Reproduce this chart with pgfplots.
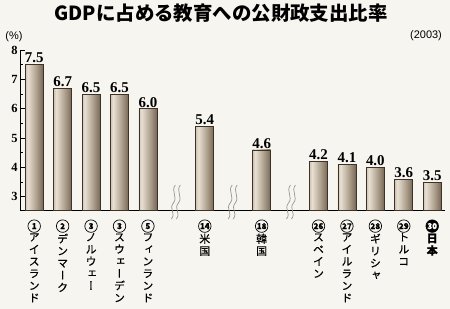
\documentclass[border=0pt]{standalone}
\usepackage{fontspec}
\usepackage{pgfplots}
\pgfplotsset{compat=1.18}
\setmainfont{Liberation Serif}
\newfontfamily\jp{Noto Sans CJK JP}
\newfontfamily\vjp[RawFeature=+vert,FakeBold=0.6]{Noto Sans CJK JP}
\newfontfamily\lsans{Liberation Sans}
\definecolor{bg}{HTML}{F7F5EF}
\definecolor{bdark}{HTML}{56473A}
\definecolor{blight}{HTML}{E8E0D3}
\definecolor{bmid}{HTML}{A39481}
\definecolor{bedge}{HTML}{3E3226}
\definecolor{brk}{HTML}{9A948C}
\pgfdeclarehorizontalshading{barshade}{100bp}{color(0bp)=(bdark); color(14bp)=(bmid); color(32bp)=(blight); color(60bp)=(bmid); color(88bp)=(bdark!90!black); color(100bp)=(bdark!80!black)}
\newcommand\brk[1]{%
  \draw[brk,line width=0.7pt] ([shift={(-5bp,-9bp)}]axis cs:#1,2.55) .. controls +(5bp,6bp) and +(-5bp,-6bp) .. ++(2bp,16bp) .. controls +(5bp,6bp) and +(-5bp,-6bp) .. ++(2bp,18bp);
  \draw[brk,line width=0.7pt] ([shift={(0bp,-9bp)}]axis cs:#1,2.55) .. controls +(5bp,6bp) and +(-5bp,-6bp) .. ++(2bp,16bp) .. controls +(5bp,6bp) and +(-5bp,-6bp) .. ++(2bp,18bp);
}
\newcommand\cnum[1]{\tikz[baseline=(n.base)]\node[circle,draw=black,line width=0.7pt,inner sep=0pt,minimum size=12.5bp,font=\bfseries\fontsize{8}{8}\selectfont](n){#1};}
\newcommand\bcirc[1]{\tikz[baseline=(n.base)]\node[circle,fill=black,draw=black,line width=0.7pt,text=white,inner sep=0pt,minimum size=12.5bp,font=\bfseries\fontsize{8}{8}\selectfont](n){#1};}
\begin{document}
\begin{tikzpicture}
\fill[bg] (0,0) rectangle (450bp,309bp);
\useasboundingbox (0,0) rectangle (450bp,309bp);
\node[font=\jp\bfseries\fontsize{19.5}{19.5}\selectfont] at (221bp,296bp) {GDPに占める教育への公財政支出比率};
\node[font=\lsans\fontsize{11}{11}\selectfont] at (14bp,272bp) {(\%)};
\node[font=\lsans\fontsize{11}{11}\selectfont] at (426bp,273bp) {(2003)};
\begin{axis}[
  at={(20bp,99bp)}, anchor=south west,
  scale only axis, width=425bp, height=160bp,
  xmin=-0.5, xmax=14.45, ymin=2.55, ymax=8,
  axis x line=bottom, axis y line=left,
  axis line style={-, black, line width=0.8pt},
  clip=false,
  ytick={3,4,5,6,7,8},
  minor ytick={3.5,4.5,5.5,6.5,7.5},
  ytick style={black, line width=0.6pt},
  major tick length=5bp, minor tick length=3bp,
  tick align=inside,
  /pgf/number format/assume math mode=true,
  yticklabel style={font=\bfseries\fontsize{12.5}{12.5}\selectfont, xshift=1bp},
  xtick={0,1,2,3,4,6,8,10,11,12,13,14},
  xtick style={draw=none},
  xticklabel style={align=center, anchor=north, yshift=-1bp, font=\vjp\fontsize{11}{12.2}\selectfont},
  xticklabels={
    {\cnum{1}\\ア\\イ\\ス\\ラ\\ン\\ド},
    {\cnum{2}\\デ\\ン\\マ\\ー\\ク},
    {\cnum{3}\\ノ\\ル\\ウ\\ェ\\ー},
    {\cnum{3}\\ス\\ウ\\ェ\\ー\\デ\\ン},
    {\cnum{5}\\フ\\ィ\\ン\\ラ\\ン\\ド},
    {\cnum{14}\\米\\国},
    {\cnum{18}\\韓\\国},
    {\cnum{26}\\ス\\ペ\\イ\\ン},
    {\cnum{27}\\ア\\イ\\ル\\ラ\\ン\\ド},
    {\cnum{28}\\ギ\\リ\\シ\\ャ},
    {\cnum{29}\\ト\\ル\\コ},
    {\bcirc{30}\\\bfseries 日\\\bfseries 本}
  },
  ybar, bar width=18bp,
  mybar/.style={draw=bedge, line width=0.6pt, shade, shading=barshade, bar shift=0pt},
  nodes near coords={\pgfmathprintnumber[fixed,fixed zerofill,precision=1,assume math mode=true]{\pgfplotspointmeta}},
  every node near coord/.append style={font=\bfseries\fontsize{15}{15}\selectfont, black, inner sep=1.2pt},
]
\addplot[mybar] coordinates {(0,7.5)};
\addplot[mybar] coordinates {(1,6.7)};
\addplot[mybar] coordinates {(2,6.5)};
\addplot[mybar] coordinates {(3,6.5)};
\addplot[mybar] coordinates {(4,6.0)};
\addplot[mybar] coordinates {(6,5.4)};
\addplot[mybar] coordinates {(8,4.6)};
\addplot[mybar] coordinates {(10,4.2)};
\addplot[mybar] coordinates {(11,4.1)};
\addplot[mybar] coordinates {(12,4.0)};
\addplot[mybar] coordinates {(13,3.6)};
\addplot[mybar] coordinates {(14,3.5)};
\brk{5}
\brk{7}
\brk{9.05}
\end{axis}
\end{tikzpicture}
\end{document}
